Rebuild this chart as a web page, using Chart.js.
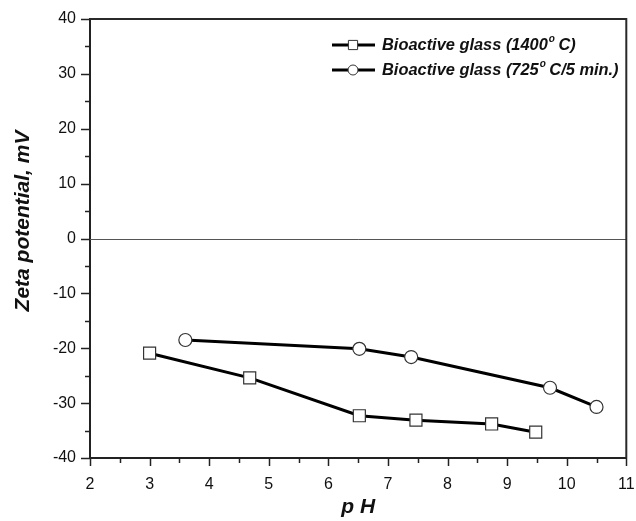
<!DOCTYPE html>
<html>
<head>
<meta charset="utf-8">
<script src="https://cdn.jsdelivr.net/npm/chart.js@4/dist/chart.umd.min.js"></script>
<style>
  html, body { margin: 0; padding: 0; background: #fff; }
  #wrap { width: 636px; height: 521px; }
</style>
</head>
<body>
<div id="wrap"><canvas id="c" width="636" height="521"></canvas></div>
<script>
// ---- data ----
const phGlass1400 = [3.00, 4.68, 6.52, 7.47, 8.74, 9.48];
const zetaGlass1400 = [-20.9, -25.4, -32.3, -33.1, -33.8, -35.3];
const phGlass725 = [3.60, 6.52, 7.39, 9.72, 10.50];
const zetaGlass725 = [-18.5, -20.1, -21.6, -27.2, -30.7];

const xTickValues = [2, 3, 4, 5, 6, 7, 8, 9, 10, 11];
const yTickValues = [-40, -30, -20, -10, 0, 10, 20, 30, 40];
const xTitle = 'p H';
const yTitle = 'Zeta potential, mV';
const legendParts = [
  ['Bioactive glass (1400', 'o', ' C)'],
  ['Bioactive glass (725', 'o', ' C/5 min.)']
];

const FONT = '"Liberation Sans", Arial, Helvetica, sans-serif';

function toPoints(xs, ys) { return xs.map((x, i) => ({ x: x, y: ys[i] })); }

const decorPlugin = {
  id: 'decor',
  beforeDatasetsDraw(chart) {
    const ctx = chart.ctx, a = chart.chartArea;
    const xs = chart.scales.x, ys = chart.scales.y;
    ctx.save();
    // zero line
    const y0 = ys.getPixelForValue(0);
    ctx.strokeStyle = '#555';
    ctx.lineWidth = 1;
    ctx.beginPath(); ctx.moveTo(a.left, Math.round(y0) + 0.5); ctx.lineTo(a.right, Math.round(y0) + 0.5); ctx.stroke();
    // frame top and right
    ctx.strokeStyle = '#2a2a2a';
    ctx.lineWidth = 2;
    ctx.beginPath();
    ctx.moveTo(a.left, a.top); ctx.lineTo(a.right, a.top); ctx.lineTo(a.right, a.bottom);
    ctx.stroke();
    // ticks
    ctx.lineWidth = 1.5;
    ctx.strokeStyle = '#222';
    for (let v = xs.min; v <= xs.max + 1e-9; v += 0.5) {
      const px = Math.round(xs.getPixelForValue(v)) + 0.5;
      const major = Math.abs(v - Math.round(v)) < 1e-9;
      ctx.beginPath(); ctx.moveTo(px, a.bottom); ctx.lineTo(px, a.bottom + (major ? 8 : 5)); ctx.stroke();
    }
    for (let v = ys.min; v <= ys.max + 1e-9; v += 5) {
      const py = Math.round(ys.getPixelForValue(v)) + 0.5;
      const major = Math.abs(v % 10) < 1e-9;
      ctx.beginPath(); ctx.moveTo(a.left, py); ctx.lineTo(a.left - (major ? 9 : 5), py); ctx.stroke();
    }
    // axis titles
    ctx.fillStyle = '#111';
    ctx.font = 'italic bold 21px ' + FONT;
    ctx.textAlign = 'center';
    ctx.textBaseline = 'middle';
    ctx.fillText(xTitle, (a.left + a.right) / 2, 507);
    ctx.translate(23, 221);
    ctx.rotate(-Math.PI / 2);
    ctx.fillText(yTitle, 0, 0);
    ctx.restore();
  },
  afterDraw(chart) {
    const ctx = chart.ctx;
    ctx.save();
    const rows = [45, 70];
    chart.data.datasets.forEach((ds, i) => {
      const y = rows[i];
      ctx.strokeStyle = ds.borderColor;
      ctx.lineWidth = ds.borderWidth;
      ctx.beginPath(); ctx.moveTo(332, y); ctx.lineTo(375, y); ctx.stroke();
      ctx.fillStyle = ds.pointBackgroundColor;
      ctx.strokeStyle = ds.pointBorderColor;
      ctx.lineWidth = 1;
      Chart.helpers.drawPoint(ctx, {
        pointStyle: ds.pointStyle, rotation: 0, borderWidth: 1,
        radius: ds.pointStyle === 'rect' ? 6.5 : 5
      }, 353, y);
      // label with superscript degree
      const parts = legendParts[i];
      let x = 382;
      ctx.fillStyle = '#111';
      ctx.textAlign = 'left';
      ctx.textBaseline = 'middle';
      ctx.font = 'italic bold 16.4px ' + FONT;
      ctx.fillText(parts[0], x, y); x += ctx.measureText(parts[0]).width + 1;
      ctx.font = 'italic bold 10px ' + FONT;
      ctx.fillText(parts[1], x, y - 6); x += ctx.measureText(parts[1]).width - 1;
      ctx.font = 'italic bold 16.4px ' + FONT;
      ctx.fillText(parts[2], x, y);
    });
    ctx.restore();
  }
};

new Chart(document.getElementById('c'), {
  type: 'scatter',
  data: {
    datasets: [
      {
        label: 'Bioactive glass (1400° C)',
        data: toPoints(phGlass1400, zetaGlass1400),
        showLine: true,
        borderColor: '#000',
        borderWidth: 3,
        pointStyle: 'rect',
        pointRadius: 8.5,
        pointHoverRadius: 8.5,
        pointBackgroundColor: '#fff',
        pointBorderColor: '#333',
        pointBorderWidth: 1.2,
        tension: 0
      },
      {
        label: 'Bioactive glass (725° C/5 min.)',
        data: toPoints(phGlass725, zetaGlass725),
        showLine: true,
        borderColor: '#000',
        borderWidth: 3,
        pointStyle: 'circle',
        pointRadius: 6.5,
        pointHoverRadius: 6.5,
        pointBackgroundColor: '#fff',
        pointBorderColor: '#333',
        pointBorderWidth: 1.2,
        tension: 0
      }
    ]
  },
  options: {
    responsive: false,
    animation: false,
    events: [],
    layout: { padding: { top: 19, right: 5, left: 0, bottom: 0 } },
    plugins: { legend: { display: false }, tooltip: { enabled: false } },
    scales: {
      x: {
        type: 'linear',
        min: 2, max: 11,
        afterFit(s) { s.height = 63; s.paddingLeft = 0; s.paddingRight = 0; },
        afterBuildTicks(s) { s.ticks = xTickValues.map(v => ({ value: v })); },
        grid: { display: false },
        border: { display: true, color: '#222', width: 2 },
        ticks: { color: '#111', font: { family: FONT, size: 16 }, padding: 9, maxRotation: 0, autoSkip: false }
      },
      y: {
        type: 'linear',
        min: -40, max: 40,
        afterFit(s) { s.width = 90; s.paddingTop = 0; s.paddingBottom = 0; },
        afterBuildTicks(s) { s.ticks = yTickValues.map(v => ({ value: v })); },
        grid: { display: false },
        border: { display: true, color: '#222', width: 2 },
        ticks: { color: '#111', font: { family: FONT, size: 16 }, padding: 6, autoSkip: false }
      }
    }
  },
  plugins: [decorPlugin]
});
</script>
</body>
</html>
